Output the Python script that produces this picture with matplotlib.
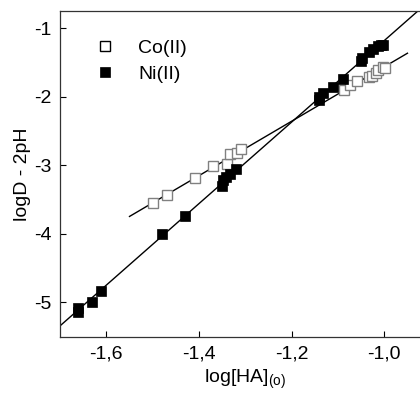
import numpy as np
import matplotlib
matplotlib.use("Agg")
import matplotlib.pyplot as plt
from matplotlib.ticker import FuncFormatter, MultipleLocator

plt.rcParams['font.family'] = ['Liberation Sans', 'DejaVu Sans']
plt.rcParams['mathtext.default'] = 'regular'

# Co(II) data (open squares)
co_x = [-1.499, -1.470, -1.409, -1.369, -1.339, -1.332, -1.319, -1.310,
        -1.088, -1.074, -1.060, -1.034, -1.027, -1.018, -1.013, -1.003, -0.998]
co_y = [-3.56, -3.44, -3.19, -3.01, -2.985, -2.84, -2.83, -2.77,
        -1.905, -1.832, -1.769, -1.711, -1.70, -1.653, -1.613, -1.565, -1.589]

# Ni(II) data (filled squares)
ni_x = [-1.662, -1.662, -1.631, -1.611, -1.479, -1.430, -1.350, -1.348, -1.342,
        -1.333, -1.320, -1.142, -1.140, -1.132, -1.110, -1.090, -1.051, -1.048,
        -1.032, -1.024, -1.013, -1.008, -1.003]
ni_y = [-5.08, -5.15, -5.00, -4.835, -4.007, -3.74, -3.31, -3.22, -3.18,
        -3.13, -3.05, -2.003, -2.05, -1.944, -1.866, -1.745, -1.477, -1.44,
        -1.355, -1.311, -1.263, -1.25, -1.248]

# x ranges of the fitted lines
co_fit_range = [-1.55, -0.95]
ni_fit_range = [-1.72, -0.88]

fig = plt.figure(figsize=(4.2, 3.94), dpi=100)
ax = fig.add_axes([0.1429, 0.1447, 0.8824, 0.8274])

# linear fits
co_p = np.polyfit(co_x, co_y, 1)
ni_p = np.polyfit(ni_x, ni_y, 1)
xc = np.array(co_fit_range)
xn = np.array(ni_fit_range)
ax.plot(xc, np.polyval(co_p, xc), color='black', lw=1.0, zorder=1)
ax.plot(xn, np.polyval(ni_p, xn), color='black', lw=1.0, zorder=1)

ax.plot(co_x, co_y, 's', ms=7.2, mfc='white', mec='#808080', mew=1.0,
        ls='none', label='Co(II)', zorder=2)
ax.plot(ni_x, ni_y, 's', ms=7.2, mfc='black', mec='black', mew=0.5,
        ls='none', label='Ni(II)', zorder=3)

ax.set_xlim(-1.7, -0.9)
ax.set_ylim(-5.51, -0.75)
ax.xaxis.set_major_locator(MultipleLocator(0.2))
ax.yaxis.set_major_locator(MultipleLocator(1))
ax.xaxis.set_major_formatter(FuncFormatter(lambda v, p: f"{v:.1f}".replace('.', ',')))
ax.yaxis.set_major_formatter(FuncFormatter(lambda v, p: f"{v:.0f}"))
ax.tick_params(direction='in', length=4, width=0.8, labelsize=14, pad=6)

for s in ax.spines.values():
    s.set_linewidth(0.9)
    s.set_color('#333333')

ax.set_xlabel("log[HA]$_{(o)}$", fontsize=14, labelpad=4)
ax.set_ylabel("logD - 2pH", fontsize=14, labelpad=2)

leg = ax.legend(loc='upper left', frameon=False, fontsize=14, handletextpad=0.7,
                borderaxespad=0, bbox_to_anchor=(0.048, 0.937), labelspacing=0.45,
                markerscale=0.95)
leg.legend_handles[0].set_markeredgecolor('black')

fig.savefig("out.png", dpi=100)
